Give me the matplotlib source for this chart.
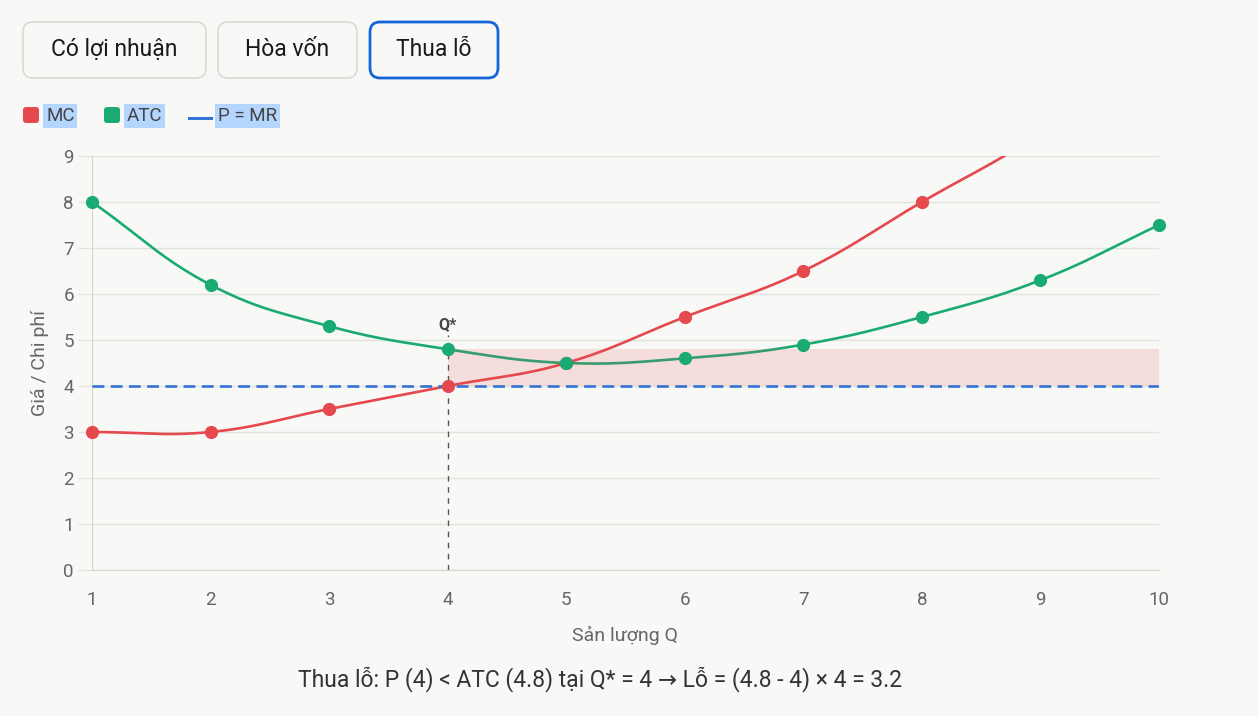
import numpy as np
import matplotlib
matplotlib.use("Agg")
import matplotlib.pyplot as plt
from matplotlib.patches import FancyBboxPatch

plt.rcParams['font.family'] = ['Roboto', 'DejaVu Sans']

# data
q = [1, 2, 3, 4, 5, 6, 7, 8, 9, 10]
mc = [3, 3, 3.5, 4, 4.5, 5.5, 6.5, 8, 9.5, 11.5]
atc = [8, 6.2, 5.3, 4.8, 4.5, 4.6, 4.9, 5.5, 6.3, 7.5]
price = 4
q_star = 4
atc_star = 4.8
buttons = ["Có lợi nhuận", "Hòa vốn", "Thua lỗ"]
caption = "Thua lỗ: P (4) < ATC (4.8) tại Q* = 4 → Lỗ = (4.8 - 4) × 4 = 3.2"

RED = "#e5484d"
GREEN = "#1aab73"
BLUE = "#3474d4"
BG = "#f8f8f6"
GRID = "#e3e3dd"
TXT = "#666666"
YMAX = 9


def smooth(xs, ys, sx=118.6, sy=46.0, t=0.4, n=40):
    # chart.js style bezier through the points (computed in pixel space)
    p = np.column_stack([np.asarray(xs, float) * sx, np.asarray(ys, float) * sy])
    m = len(p)
    prev_cp, next_cp = [], []
    for i in range(m):
        p0 = p[max(i - 1, 0)]
        p1 = p[i]
        p2 = p[min(i + 1, m - 1)]
        d01 = np.hypot(*(p1 - p0))
        d12 = np.hypot(*(p2 - p1))
        tot = d01 + d12
        s01 = d01 / tot if tot else 0
        s12 = d12 / tot if tot else 0
        prev_cp.append(p1 - t * s01 * (p2 - p0))
        next_cp.append(p1 + t * s12 * (p2 - p0))
    u = np.linspace(0, 1, n)[:, None]
    segs = []
    for i in range(m - 1):
        a, b, c, d = p[i], next_cp[i], prev_cp[i + 1], p[i + 1]
        seg = (1 - u) ** 3 * a + 3 * (1 - u) ** 2 * u * b + 3 * (1 - u) * u ** 2 * c + u ** 3 * d
        segs.append(seg if i == 0 else seg[1:])
    pts = np.vstack(segs)
    return pts[:, 0] / sx, pts[:, 1] / sy


def visible(vals):
    v = np.asarray(vals, float)
    return np.where(v <= YMAX, v, np.nan)


fig = plt.figure(figsize=(12.58, 7.16), dpi=100, facecolor=BG)
ax = fig.add_axes([92 / 1258, 146 / 716, 1067 / 1258, 414 / 716])
ax.set_facecolor(BG)

ax.fill_between([q_star, q[-1]], price, atc_star, color=RED, alpha=0.15, linewidth=0, zorder=2.5)

mx, my = smooth(q, mc)
ax.plot(mx, my, color=RED, lw=1.9, zorder=2)
ax.plot(q, visible(mc), 'o', color=RED, ms=8.5, zorder=4, clip_on=False)
ax_, ay_ = smooth(q, atc)
ax.plot(ax_, ay_, color=GREEN, lw=1.9, zorder=2)
ax.plot(q, visible(atc), 'o', color=GREEN, ms=8.5, zorder=4, clip_on=False)

ax.plot([q[0], q[-1]], [price, price], color=BLUE, lw=1.9, linestyle=(0, (4.5, 2.4)), zorder=3)
ax.plot([q_star, q_star], [0, 5.1], color="#555555", lw=1, linestyle=(0, (4, 4)), zorder=3)
ax.text(q_star, 5.33, "Q*", ha='center', va='center', fontsize=11.5, fontweight='bold', color="#444444")

ax.set_xlim(1, 10)
ax.set_ylim(0, YMAX)
ax.set_xticks(q)
ax.set_yticks(range(10))
ax.grid(axis='y', color=GRID, lw=1)
ax.grid(axis='x', visible=False)
ax.set_axisbelow(True)
for s in ['top', 'right']:
    ax.spines[s].set_visible(False)
for s in ['left', 'bottom']:
    ax.spines[s].set_color("#d6d6d0")
ax.tick_params(axis='y', length=10, color=GRID, labelcolor=TXT, labelsize=13.5, pad=3)
ax.tick_params(axis='x', length=0, labelcolor=TXT, labelsize=13.5, pad=15)
ax.set_xlabel("Sản lượng Q", color=TXT, fontsize=14, labelpad=12)
ax.set_ylabel("Giá / Chi phí", color=TXT, fontsize=14, labelpad=10)

# overlay in pixel coordinates for buttons, legend and caption
ov = fig.add_axes([0, 0, 1, 1], facecolor='none')
ov.set_xlim(0, 1258)
ov.set_ylim(716, 0)
ov.axis('off')

btn_x = [(23, 206), (218, 357), (370, 498)]
for i, (label, (x0, x1)) in enumerate(zip(buttons, btn_x)):
    active = i == 2
    ov.add_patch(FancyBboxPatch((x0, 22), x1 - x0, 56, boxstyle="round,pad=0,rounding_size=10",
                                facecolor=BG, edgecolor="#1565d8" if active else "#d4d4d0",
                                lw=2 if active else 1))
    ov.text((x0 + x1) / 2, 50, label, ha='center', va='center', fontsize=16.5, color="#1a1a1a")

hl = dict(boxstyle="square,pad=0.15", facecolor="#b4d5fd", edgecolor='none')
ov.add_patch(FancyBboxPatch((23, 107), 16, 16, boxstyle="round,pad=0,rounding_size=3", facecolor=RED, edgecolor='none'))
ov.text(46, 116, "MC", ha='left', va='center', fontsize=13.5, color="#444444", bbox=hl)
ov.add_patch(FancyBboxPatch((104, 107), 16, 16, boxstyle="round,pad=0,rounding_size=3", facecolor=GREEN, edgecolor='none'))
ov.text(127, 116, "ATC", ha='left', va='center', fontsize=13.5, color="#444444", bbox=hl)
ov.plot([189, 211], [118, 118], color=BLUE, lw=2.2)
ov.text(218, 116, "P = MR", ha='left', va='center', fontsize=13.5, color="#444444", bbox=hl)

ov.text(600, 679, caption, ha='center', va='center', fontsize=16.5, color="#333333")

fig.savefig("out.png", dpi=100, facecolor=BG)
